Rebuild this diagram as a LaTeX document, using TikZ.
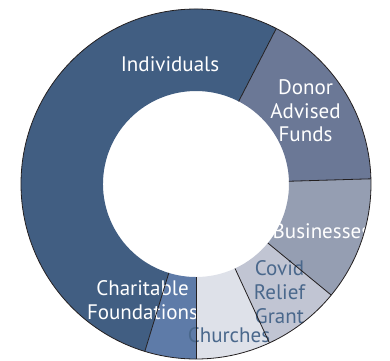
\documentclass[tikz,border=0pt]{standalone}
\usepackage{fontspec}
\setmainfont{PT Sans}
\definecolor{cIndiv}{RGB}{65,94,130}
\definecolor{cDAF}{RGB}{107,120,150}
\definecolor{cBus}{RGB}{149,158,178}
\definecolor{cCovid}{RGB}{193,197,211}
\definecolor{cChurch}{RGB}{222,225,233}
\definecolor{cChar}{RGB}{94,123,168}
\definecolor{cDarkText}{RGB}{74,104,140}
\definecolor{cLine}{RGB}{35,31,32}
\tikzset{
  lbl/.style={inner sep=0pt, align=center, font=\fontsize{21}{23.8}\selectfont},
  whitelbl/.style={lbl, text=white},
  darklbl/.style={lbl, text=cDarkText},
  sep/.style={draw=cLine, line width=0.8pt},
}
\newcommand{\slice}[3]{%
  \fill[#3] (#1:175) arc[start angle=#1, end angle=#2, radius=175]
    -- (#2:93) arc[start angle=#2, end angle=#1, radius=93] -- cycle;}
\begin{document}
\begin{tikzpicture}[x=1pt,y=1pt]
\useasboundingbox (0,0) rectangle (390,360);
\begin{scope}[shift={(196,176)}]
  \slice{62.7}{253}{cIndiv}
  \slice{-107}{-90}{cChar}
  \slice{-90}{-65.2}{cChurch}
  \slice{-65.2}{-39.4}{cCovid}
  \slice{-39.4}{1.7}{cBus}
  \slice{1.7}{62.7}{cDAF}
\end{scope}
\begin{scope}
  \clip (196,176) circle (175);
  \node[whitelbl, anchor=base] (indiv) at (170,288.3) {Individuals};
  \node[whitelbl] (daf) at (305.5,249.3) {Donor\\Advised\\Funds};
  \node[whitelbl, anchor=base west] (bus) at (272.5,122) {Businesses};
  \node[darklbl] (covid) at (279.5,67.7) {Covid\\Relief\\Grant};
  \node[whitelbl] (char) at (142.5,59.7) {Charitable\\Foundations};
  \node[darklbl, anchor=base] (church) at (229,18) {Churches};
\end{scope}
\begin{scope}[shift={(196,176)}]
  \foreach \a in {62.7,1.7,-39.4,-65.2,-90,-107}
    \draw[sep] (\a:93) -- (\a:175);
  \draw[sep] (0,0) circle (175);
\end{scope}
\end{tikzpicture}
\end{document}
